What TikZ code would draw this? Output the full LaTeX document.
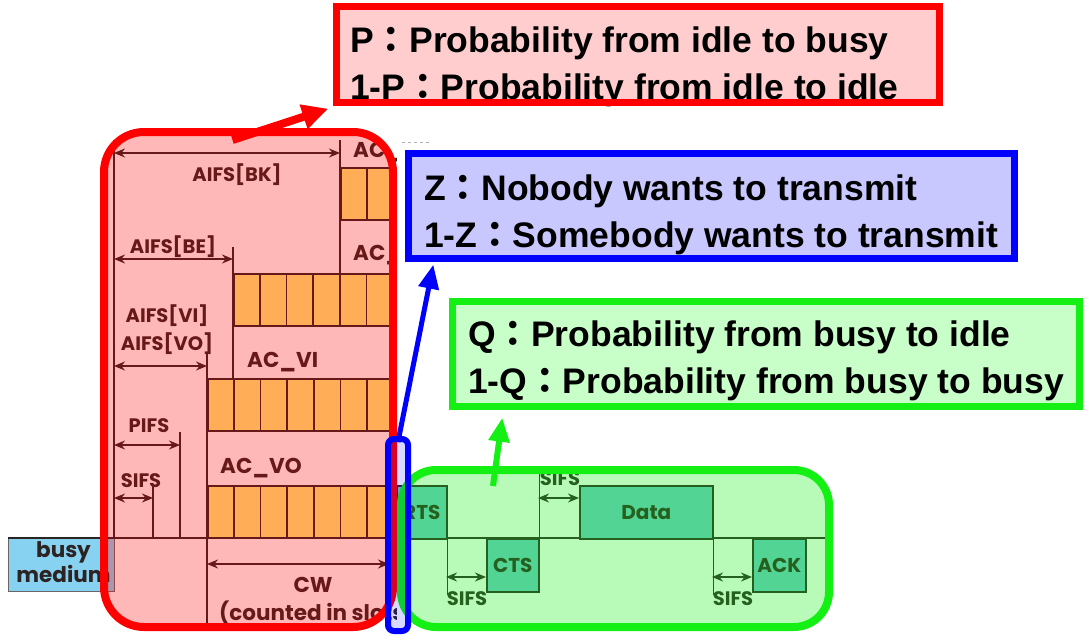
\documentclass[tikz,border=0pt]{standalone}
\usepackage{fontspec}
\setmainfont{Liberation Sans}
\newfontfamily\gothic{Poppins}
\newfontfamily\cjk{Noto Sans CJK TC}
\usetikzlibrary{arrows.meta,positioning,calc}
\definecolor{edcaInk}{RGB}{45,35,35}
\definecolor{slotYellow}{RGB}{255,240,120}
\definecolor{frameTeal}{RGB}{110,200,205}
\definecolor{busySky}{RGB}{135,210,240}
\definecolor{zoneRed}{RGB}{255,0,0}
\definecolor{zoneBlue}{RGB}{0,0,255}
\definecolor{zoneGreen}{RGB}{20,240,20}
\definecolor{noteRed}{RGB}{255,205,205}
\definecolor{noteBlue}{RGB}{200,200,255}
\definecolor{noteGreen}{RGB}{200,255,200}
\newcommand{\fwc}{{\cjk ：}}
\tikzset{
  inkline/.style={draw=edcaInk, line width=1.6pt},
  dimarrow/.style={{Stealth[length=11pt,width=9pt]}-{Stealth[length=11pt,width=9pt]},
    draw=edcaInk, line width=1.6pt},
  edcalabel/.style={font=\gothic\bfseries\fontsize{19.5}{25}\selectfont,
    text=edcaInk, inner sep=0pt},
  biglabel/.style={edcalabel, font=\gothic\bfseries\fontsize{21.5}{25}\selectfont},
  slotrow/.style={rectangle, draw=edcaInk, line width=2.4pt, fill=slotYellow,
    anchor=north west, inner sep=0pt, minimum height=52pt},
  framebox/.style={rectangle, draw=edcaInk, line width=1.6pt, fill=frameTeal,
    anchor=north west, inner sep=0pt, minimum height=53pt,
    font=\gothic\bfseries\fontsize{20}{25}\selectfont, text=edcaInk},
  zone/.style={rectangle, inner sep=0pt, line width=8pt},
  notebox/.style={rectangle, inner sep=0pt},
  notetext/.style={font=\bfseries\fontsize{35.5}{47}\selectfont, align=left,
    anchor=north west, inner sep=0pt}
}
\begin{document}
\begin{tikzpicture}[x=1pt, y=-1pt]
\useasboundingbox (0,0) rectangle (1085,635);

% EDCA access timing, cut at the red zone
\begin{scope}
  \clip (0,0) rectangle (396,635);
  \node[slotrow, minimum width=130pt] (rowBK) at (340,167) {};
  \node[slotrow, minimum width=230pt] (rowBE) at (233,273) {};
  \node[slotrow, minimum width=260pt] (rowVI) at (207,378) {};
  \node[slotrow, minimum width=260pt] (rowVO) at (207,485) {};
  \foreach \rowname/\nslots in {rowBK/2, rowBE/6, rowVI/7, rowVO/7}
    \foreach \k in {1,...,\nslots}
      \draw[inkline] ($(\rowname.north west)+(\k*26.7,0)$) -- ($(\rowname.south west)+(\k*26.7,0)$);

  \draw[inkline] (114,140) -- (114,591);
  \draw[inkline] (340,140) -- (340,273);
  \draw[inkline] (233,247) -- (233,378);
  \draw[inkline] (207,352) -- (207,623);
  \draw[inkline] (180,432) -- (180,538);
  \draw[inkline] (153,485) -- (153,538);

  \draw[dimarrow] (114,153) -- (340,153);
  \draw[dimarrow] (114,259) -- (233,259);
  \draw[dimarrow] (114,366) -- (207,366);
  \draw[dimarrow] (114,445) -- (180,445);
  \draw[dimarrow] (114,498) -- (153,498);
  \draw[dimarrow] (207,564) -- (389,564);

  \node[edcalabel, anchor=base] (aifsBK) at (237,181) {AIFS[BK]};
  \node[edcalabel, anchor=base] (aifsBE) at (173,253) {AIFS[BE]};
  \node[edcalabel, anchor=base] (aifsVI) at (167,322) {AIFS[VI]};
  \node[edcalabel, anchor=base] (aifsVO) at (167,350) {AIFS[VO]};
  \node[biglabel, anchor=base west] (acBK) at (353,157) {AC\_BK};
  \node[biglabel, anchor=base west] (acBE) at (353,260) {AC\_BE};
  \node[biglabel, anchor=base west] (acVI) at (247,367) {AC\_VI};
  \node[biglabel, anchor=base west] (acVO) at (220,473) {AC\_VO};
  \node[edcalabel, anchor=base] (pifs) at (149,432) {PIFS};
  \node[edcalabel, anchor=base] (sifsL) at (141,487) {SIFS};
  \node[biglabel, anchor=base] (cw) at (313,592) {CW};
  \node[biglabel, anchor=base west] (cwNote) at (219,620) {(counted in slots)};

  \node[rectangle, draw=edcaInk!70, line width=1pt, fill=busySky, inner sep=0pt,
        minimum width=106pt, minimum height=53pt, anchor=north west] (busy) at (8,538) {};
  \begin{scope}
    \clip (busy.south west) rectangle (busy.north east);
    \node[biglabel, align=center, anchor=north] (busyText) at ($(busy.north)+(2,3)$) {busy\\medium};
  \end{scope}
\end{scope}
\draw[inkline] (8,538) -- (825,538);
\draw[gray!60, dashed, line width=1pt] (402,142) -- (430,142);

% RTS/CTS exchange
\node[framebox, minimum width=50pt] (rts) at (396,485) {RTS};
\node[framebox, minimum width=52pt] (cts) at (486,538) {CTS};
\node[framebox, minimum width=133pt] (data) at (579,485) {Data};
\node[framebox, minimum width=53pt] (ack) at (752,538) {ACK};
\draw[inkline] (rts.north east) -- ($(rts.south east)+(0,55)$);
\draw[inkline] ($(cts.north east)+(0,-66)$) -- (cts.south east);
\draw[inkline] (data.north east) -- ($(data.south east)+(0,55)$);
\draw[dimarrow] (446,577) -- (486,577);
\draw[dimarrow] (538,498) -- (579,498);
\draw[dimarrow] (712,577) -- (752,577);
\node[edcalabel, anchor=base] (sifsA) at (467,605) {SIFS};
\node[edcalabel, anchor=base] (sifsB) at (560,485) {SIFS};
\node[edcalabel, anchor=base] (sifsC) at (733,605) {SIFS};

% highlighted zones
\node[zone, draw=zoneRed, fill=zoneRed, fill opacity=0.28, rounded corners=40pt,
      minimum width=289pt, minimum height=495pt] (idleZone) at (248.5,379.5) {};
\node[zone, draw=zoneGreen, fill=zoneGreen, fill opacity=0.3, rounded corners=35pt,
      minimum width=428pt, minimum height=157pt] (busyZone) at (615,548.5) {};
\node[zone, line width=6pt, draw=zoneBlue, fill=zoneBlue, fill opacity=0.15,
      rounded corners=6pt, minimum width=20pt, minimum height=192pt] (txZone) at (398,535) {};

% notes
\node[notebox, fill=noteRed, minimum width=603pt, minimum height=96pt] (noteP) at (638,54.5) {};
\node[notetext, font=\bfseries\fontsize{35.5}{46.5}\selectfont] (textP) at (350,27)
  {P\fwc Probability from idle to busy\\1-P\fwc Probability from idle to idle};
\draw[zoneRed, line width=7pt] (noteP.south west) rectangle (noteP.north east);

\node[notebox, fill=noteBlue, minimum width=606pt, minimum height=105pt] (noteZ) at (711.5,206) {};
\node[notetext] (textZ) at (424,174.5)
  {Z\fwc Nobody wants to transmit\\1-Z\fwc Somebody wants to transmit};
\draw[zoneBlue, line width=7pt] (noteZ.south west) rectangle (noteZ.north east);

\node[notebox, fill=noteGreen, minimum width=627pt, minimum height=105pt] (noteQ) at (766,354) {};
\node[notetext] (textQ) at (468,321)
  {Q\fwc Probability from busy to idle\\1-Q\fwc Probability from busy to busy};
\draw[zoneGreen, line width=7pt] (noteQ.south west) rectangle (noteQ.north east);

\draw[zoneRed, line width=8pt, -{Triangle[length=26pt,width=24pt]}]
  ($(idleZone.north)+(-16,12)$) -- ($(noteP.south west)+(-8,6)$);
\draw[zoneBlue, line width=5pt, -{Triangle[length=24pt,width=20pt]}]
  ($(txZone.north)+(0,6)$) -- ($(noteZ.south west)+(25,6)$);
\draw[zoneGreen, line width=6pt, -{Triangle[length=24pt,width=20pt]}]
  ($(busyZone.north)+(-122,20)$) -- ($(noteQ.south west)+(50,11)$);
\end{tikzpicture}
\end{document}
